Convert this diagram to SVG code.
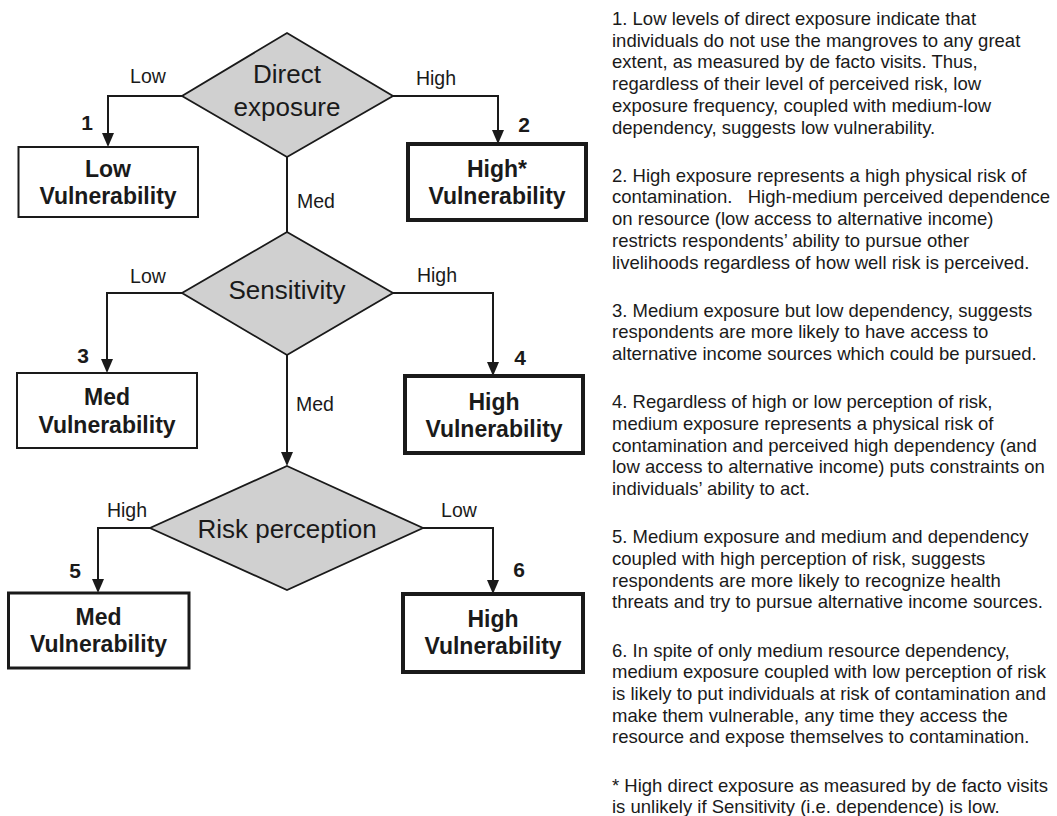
<svg xmlns="http://www.w3.org/2000/svg" width="1057" height="816" viewBox="0 0 1057 816">
<style>
  .dia{fill:#d0d0d0;stroke:#1a1a1a;stroke-width:1.8}
  .dt{font-family:"Liberation Sans",Arial,sans-serif;font-size:26px;fill:#1a1a1a;text-anchor:middle}
  .box{fill:#fff;stroke:#1a1a1a}
  .thin{stroke-width:2}
  .mid{stroke-width:3}
  .thick{stroke-width:4}
  .bt{font-family:"Liberation Sans",Arial,sans-serif;font-size:23px;font-weight:bold;fill:#1a1a1a;text-anchor:middle}
  .num{font-family:"Liberation Sans",Arial,sans-serif;font-size:21px;font-weight:bold;fill:#1a1a1a;text-anchor:middle}
  .lbl{font-family:"Liberation Sans",Arial,sans-serif;font-size:19.5px;fill:#1a1a1a}
  .con{fill:none;stroke:#1a1a1a;stroke-width:2}
  .note{font-family:"Liberation Sans",Arial,sans-serif;font-size:18.5px;fill:#1a1a1a;white-space:pre}
</style>
<defs>
  <marker id="arr" markerUnits="userSpaceOnUse" markerWidth="12" markerHeight="14" viewBox="0 0 12 14" refX="6" refY="14" orient="auto-start-reverse">
    <path d="M0,0 L12,0 L6,14 Z" fill="#1a1a1a"/>
  </marker>
</defs>
<rect width="1057" height="816" fill="#fff"/>

<g id="connectors">
  <path class="con" d="M182,96 H108 V133" />
  <path d="M102,133 L114,133 L108,147 Z" fill="#1a1a1a"/>
  <path class="con" d="M393,96 H498 V130" />
  <path d="M492,130 L504,130 L498,144 Z" fill="#1a1a1a"/>
  <path class="con" d="M287,157 V232" />
  <path class="con" d="M182,293 H107 V359" />
  <path d="M101,359 L113,359 L107,373 Z" fill="#1a1a1a"/>
  <path class="con" d="M393,293 H493 V362" />
  <path d="M487,362 L499,362 L493,376 Z" fill="#1a1a1a"/>
  <path class="con" d="M287,355 V452" />
  <path d="M281,452 L293,452 L287,466 Z" fill="#1a1a1a"/>
  <path class="con" d="M150,528 H98 V579" />
  <path d="M92,579 L104,579 L98,593 Z" fill="#1a1a1a"/>
  <path class="con" d="M423,528 H493 V580" />
  <path d="M487,580 L499,580 L493,594 Z" fill="#1a1a1a"/>
  <text class="lbl" x="148" y="83" text-anchor="middle">Low</text>
  <text class="lbl" x="436" y="85" text-anchor="middle">High</text>
  <text class="lbl" x="297" y="208">Med</text>
  <text class="lbl" x="148" y="282.5" text-anchor="middle">Low</text>
  <text class="lbl" x="437" y="282" text-anchor="middle">High</text>
  <text class="lbl" x="296" y="410.5">Med</text>
  <text class="lbl" x="127" y="517" text-anchor="middle">High</text>
  <text class="lbl" x="459" y="517" text-anchor="middle">Low</text>
</g>

<g id="direct-exposure">
  <polygon class="dia" points="287,33 393,96 287,157 182,96"/>
  <text class="dt" x="287" y="83">Direct</text>
  <text class="dt" x="287" y="116">exposure</text>
</g>
<g id="sensitivity">
  <polygon class="dia" points="287,232 393,293 287,355 182,293"/>
  <text class="dt" x="287" y="299">Sensitivity</text>
</g>
<g id="risk-perception">
  <polygon class="dia" points="287,466 423,528 287,590 150,528"/>
  <text class="dt" x="287" y="538">Risk perception</text>
</g>

<g id="outcome-1">
  <rect class="box thin" x="18.5" y="147" width="179.5" height="70"/>
  <text class="num" x="87" y="130">1</text>
  <text class="bt" x="108" y="177">Low</text>
  <text class="bt" x="108" y="204">Vulnerability</text>
</g>
<g id="outcome-2">
  <rect class="box thick" x="408" y="144" width="178" height="76"/>
  <text class="num" x="524" y="131.5">2</text>
  <text class="bt" x="497" y="177">High*</text>
  <text class="bt" x="497" y="203.5">Vulnerability</text>
</g>
<g id="outcome-3">
  <rect class="box thin" x="17" y="373" width="180" height="75"/>
  <text class="num" x="83" y="363">3</text>
  <text class="bt" x="107" y="405">Med</text>
  <text class="bt" x="107" y="432.5">Vulnerability</text>
</g>
<g id="outcome-4">
  <rect class="box thick" x="405" y="376" width="178" height="77"/>
  <text class="num" x="520" y="365">4</text>
  <text class="bt" x="494" y="410">High</text>
  <text class="bt" x="494" y="437">Vulnerability</text>
</g>
<g id="outcome-5">
  <rect class="box mid" x="8.5" y="593" width="180.5" height="75"/>
  <text class="num" x="75" y="578">5</text>
  <text class="bt" x="98.5" y="625">Med</text>
  <text class="bt" x="98.5" y="652">Vulnerability</text>
</g>
<g id="outcome-6">
  <rect class="box thick" x="403" y="594" width="180" height="78"/>
  <text class="num" x="519" y="577">6</text>
  <text class="bt" x="493" y="627">High</text>
  <text class="bt" x="493" y="654">Vulnerability</text>
</g>

<g id="notes">
  <text class="note" x="612" y="25">
    <tspan x="612" y="25">1. Low levels of direct exposure indicate that</tspan>
    <tspan x="612" y="46.7">individuals do not use the mangroves to any great</tspan>
    <tspan x="612" y="68.4">extent, as measured by de facto visits. Thus,</tspan>
    <tspan x="612" y="90.1">regardless of their level of perceived risk, low</tspan>
    <tspan x="612" y="111.8">exposure frequency, coupled with medium-low</tspan>
    <tspan x="612" y="133.5">dependency, suggests low vulnerability.</tspan>
  </text>
  <text class="note" x="612" y="181.7">
    <tspan x="612" y="181.7">2. High exposure represents a high physical risk of</tspan>
    <tspan x="612" y="203.4">contamination.   High-medium perceived dependence</tspan>
    <tspan x="612" y="225.1">on resource (low access to alternative income)</tspan>
    <tspan x="612" y="246.8">restricts respondents’ ability to pursue other</tspan>
    <tspan x="612" y="268.5">livelihoods regardless of how well risk is perceived.</tspan>
  </text>
  <text class="note" x="612" y="316.7">
    <tspan x="612" y="316.7">3. Medium exposure but low dependency, suggests</tspan>
    <tspan x="612" y="338.4">respondents are more likely to have access to</tspan>
    <tspan x="612" y="360.1">alternative income sources which could be pursued.</tspan>
  </text>
  <text class="note" x="612" y="408.3">
    <tspan x="612" y="408.3">4. Regardless of high or low perception of risk,</tspan>
    <tspan x="612" y="430">medium exposure represents a physical risk of</tspan>
    <tspan x="612" y="451.7">contamination and perceived high dependency (and</tspan>
    <tspan x="612" y="473.4">low access to alternative income) puts constraints on</tspan>
    <tspan x="612" y="495.1">individuals’ ability to act.</tspan>
  </text>
  <text class="note" x="612" y="543.3">
    <tspan x="612" y="543.3">5. Medium exposure and medium and dependency</tspan>
    <tspan x="612" y="565">coupled with high perception of risk, suggests</tspan>
    <tspan x="612" y="586.7">respondents are more likely to recognize health</tspan>
    <tspan x="612" y="608.4">threats and try to pursue alternative income sources.</tspan>
  </text>
  <text class="note" x="612" y="656.6">
    <tspan x="612" y="656.6">6. In spite of only medium resource dependency,</tspan>
    <tspan x="612" y="678.3">medium exposure coupled with low perception of risk</tspan>
    <tspan x="612" y="700">is likely to put individuals at risk of contamination and</tspan>
    <tspan x="612" y="721.7">make them vulnerable, any time they access the</tspan>
    <tspan x="612" y="743.4">resource and expose themselves to contamination.</tspan>
  </text>
  <text class="note" x="612" y="791.6">
    <tspan x="612" y="791.6">* High direct exposure as measured by de facto visits</tspan>
    <tspan x="612" y="813.3">is unlikely if Sensitivity (i.e. dependence) is low.</tspan>
  </text>
</g>
</svg>
